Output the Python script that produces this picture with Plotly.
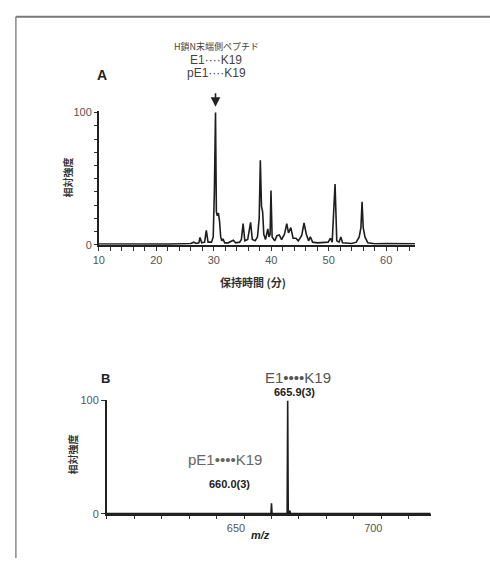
import plotly.graph_objects as go

W, H = 490, 564

# Panel A: chromatogram (retention time in min, relative intensity)
rt_min = [10, 14, 18, 22, 25, 26, 26.5, 27, 27.4, 27.6, 27.9, 28.4, 28.7, 29.0, 29.6, 29.9,
          30.1, 30.3, 30.45, 30.6, 30.8, 31.0, 31.2, 31.4, 31.6, 31.9, 32.5, 33.0, 33.4, 33.8,
          34.5, 34.8, 35.1, 35.4, 35.9, 36.4, 36.7, 37.2, 37.6, 37.9, 38.1, 38.3, 38.5, 38.7,
          39.0, 39.4, 39.6, 39.8, 39.95, 40.15, 40.6, 41.0, 41.4, 41.8, 42.3, 42.7, 43.0, 43.4,
          43.8, 44.3, 44.7, 45.3, 45.7, 46.1, 46.5, 46.8, 47.2, 48.0, 49.0, 49.9, 50.3, 50.6,
          51.1, 51.4, 51.8, 52.1, 52.4, 54.0, 54.8, 55.3, 55.6, 55.8, 56.0, 56.3, 56.8, 58.0,
          60.0, 62.0, 65.0]
rel_int_a = [0.6, 0.5, 0.6, 0.5, 0.8, 1.0, 2.0, 1.0, 1.5, 5.5, 1.5, 2.0, 11.0, 2.0, 2.0, 6.0,
             40.0, 100.0, 25.0, 22.0, 24.0, 18.0, 6.0, 3.0, 4.5, 1.5, 1.5, 2.5, 3.5, 1.5,
             2.0, 4.0, 16.0, 3.0, 4.0, 17.0, 4.0, 3.0, 6.0, 20.0, 64.0, 29.0, 25.0, 8.0,
             4.0, 12.0, 6.0, 8.0, 41.0, 6.0, 3.0, 7.0, 7.5, 4.0, 8.0, 16.0, 9.0, 13.0,
             5.0, 5.0, 3.0, 7.0, 16.5, 8.0, 3.0, 6.0, 2.0, 1.5, 1.5, 2.0, 5.0, 2.0,
             46.0, 3.0, 2.0, 6.0, 1.5, 1.0, 2.0, 6.0, 13.0, 32.5, 13.0, 6.0, 1.5, 0.8,
             1.0, 0.8, 0.8]

# Panel B: mass spectrum (m/z, relative intensity)
mz = [600, 620, 635, 645, 652, 659.8, 660.0, 660.2, 665.7, 665.9, 666.1, 666.4, 666.6, 667.0,
      680, 700, 718]
rel_int_b = [0.3, 0.5, 0.3, 0.6, 0.3, 0.3, 9.5, 0.3, 0.3, 100.0, 0.5, 0.5, 3.0, 0.4,
             0.3, 0.6, 0.3]

xa_ticks = list(range(10, 66, 2))
xa_labels = ["10", "20", "30", "40", "50", "60"]
xb_ticks = list(range(600, 720, 10))
xb_labels = ["650", "700"]
y_ticks = list(range(0, 101, 10))

def px(x):
    return x / W

def py(y):
    return 1 - y / H

fig = go.Figure()
LINE = "#1e1e1e"
fig.add_trace(go.Scatter(x=rt_min, y=rel_int_a, mode="lines", xaxis="x", yaxis="y",
                         line=dict(color=LINE, width=1.6), hoverinfo="skip", showlegend=False))
fig.add_trace(go.Scatter(x=mz, y=rel_int_b, mode="lines", xaxis="x2", yaxis="y2",
                         line=dict(color=LINE, width=1.6), hoverinfo="skip", showlegend=False))

tickfont = dict(family="Liberation Sans, Arial", size=11, color="#555")

def ttext(vals, labels):
    return [str(v) if str(v) in labels else "" for v in vals]

fig.update_layout(
    width=W, height=H, margin=dict(l=0, r=0, t=0, b=0),
    paper_bgcolor="white", plot_bgcolor="white", showlegend=False,
    xaxis=dict(domain=[px(94), px(414)], range=[10, 65], anchor="y",
               tickvals=xa_ticks, ticktext=ttext(xa_ticks, xa_labels),
               ticks="outside", ticklen=4, tickwidth=1.2, tickcolor="#333",
               showline=True, linecolor="#222", linewidth=1.6, showgrid=False, zeroline=False,
               tickfont=tickfont),
    yaxis=dict(domain=[py(244), py(107.6)], range=[0, 101], anchor="x",
               tickvals=y_ticks, ticktext=ttext(y_ticks, ["0", "100"]),
               ticks="outside", ticklen=3, tickwidth=1, tickcolor="#333",
               showline=True, linecolor="#222", linewidth=1.6, showgrid=False, zeroline=False,
               tickfont=tickfont),
    xaxis2=dict(domain=[px(102), px(430)], range=[600, 718], anchor="y2",
                tickvals=xb_ticks, ticktext=ttext(xb_ticks, xb_labels),
                ticks="outside", ticklen=3, tickwidth=1.2, tickcolor="#333",
                showline=True, linecolor="#222", linewidth=1.6, showgrid=False, zeroline=False,
                tickfont=tickfont, ticklabelshift=-8),
    yaxis2=dict(domain=[py(519), py(403)], range=[0, 100], anchor="x2",
                tickvals=[0, 100], ticktext=["0", "100"],
                ticks="outside", ticklen=4, tickwidth=1, tickcolor="#333",
                showline=True, linecolor="#222", linewidth=1.6, showgrid=False, zeroline=False,
                tickfont=tickfont),
)

# frame
fig.add_shape(type="line", xref="paper", yref="paper", x0=px(10), x1=px(490), y0=py(11), y1=py(11),
              line=dict(color="#777", width=2))
fig.add_shape(type="line", xref="paper", yref="paper", x0=px(10), x1=px(10), y0=py(11), y1=py(564),
              line=dict(color="#888", width=1.5))

cjk = "Noto Sans CJK JP"
sans = "Liberation Sans, Arial"
ann = []
def T(x, y, text, size=11, color="#333", family=sans, angle=0):
    ann.append(dict(x=px(x), y=py(y), xref="paper", yref="paper", text=text, showarrow=False,
                    font=dict(size=size, color=color, family=family), textangle=angle,
                    xanchor="center", yanchor="middle"))

# Panel A texts
T(213, 41, "H鎖N末端側ペプチド", 9, "#444", cjk)
T(213, 55, "E1····K19", 12, "#444")
T(213, 68, "pE1····K19", 12, "#444")
T(97, 71, "<b>A</b>", 14, "#222")
T(62, 175, "<b>相対強度</b>", 10, "#333", cjk, -90)
T(250, 282, "<b>保持時間 (分)</b>", 11, "#333", cjk)

# Panel B texts
T(101, 381, "<b>B</b>", 13, "#222")
T(296, 380, "E1••••K19", 15, "#555")
T(292, 394, "<b>665.9(3)</b>", 11, "#222")
T(222, 463, "pE1••••K19", 15, "#666")
T(226, 488, "<b>660.0(3)</b>", 11, "#222")
T(67, 458, "<b>相対強度</b>", 10, "#333", cjk, -90)
T(258, 541, "<b><i>m/z</i></b>", 11, "#222")

# arrow at the N-terminal peptide peak
ann.append(dict(x=30.3, y=py(103), xref="x", yref="paper", text="", showarrow=True,
                ax=0, ay=-15, axref="pixel", ayref="pixel", arrowhead=2, arrowsize=1.2,
                arrowwidth=1.6, arrowcolor="#222"))
fig.update_layout(annotations=ann)

fig.write_html("out.html", config={"displayModeBar": False},
               post_script="document.body.style.margin='0';document.body.style.overflow='hidden';")
